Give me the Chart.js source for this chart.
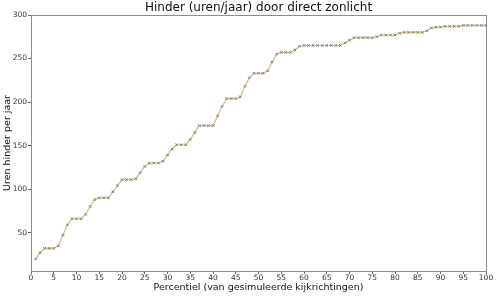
<!DOCTYPE html>
<html>
<head>
<meta charset="utf-8">
<script src="https://cdn.jsdelivr.net/npm/chart.js@4/dist/chart.umd.min.js"></script>
<style>
html,body{margin:0;padding:0;background:#fff;}
#wrap{width:496px;height:296px;position:relative;}
</style>
</head>
<body>
<div id="wrap"><canvas id="c" width="496" height="296"></canvas></div>
<script>
const percentiles = [];
for (let i = 1; i <= 100; i++) percentiles.push(i);
const hinderValues = [
  20, 27, 32, 32, 32, 35, 47, 59, 66, 66,
  66, 71, 80, 88, 90, 90, 90, 97, 104, 111,
  111, 111, 112, 119, 126, 130, 130, 130, 132, 139,
  146, 151, 151, 151, 157, 165, 173, 173, 173, 173,
  184, 195, 204, 204, 204, 206, 218, 228, 233, 233,
  233, 236, 246, 255, 257, 257, 257, 260, 264, 265,
  265, 265, 265, 265, 265, 265, 265, 265, 268, 271,
  274, 274, 274, 274, 274, 275, 277, 277, 277, 277,
  279, 280, 280, 280, 280, 280, 282, 285, 286, 286,
  287, 287, 287, 287, 288, 288, 288, 288, 288, 288
];
const xTicks = [0,5,10,15,20,25,30,35,40,45,50,55,60,65,70,75,80,85,90,95,100];
const yTicks = [50,100,150,200,250,300];

const frame = {
  id: 'frame',
  afterDatasetsDraw(chart) {
    const a = chart.chartArea, ctx = chart.ctx;
    ctx.save();
    ctx.strokeStyle = '#8c8c8c';
    ctx.lineWidth = 1;
    ctx.strokeRect(Math.round(a.left) + 0.5, Math.round(a.top) + 0.5, Math.round(a.right - a.left), Math.round(a.bottom - a.top));
    ctx.restore();
  }
};

new Chart(document.getElementById('c'), {
  type: 'line',
  data: {
    datasets: [{
      data: percentiles.map((p, i) => ({x: p, y: hinderValues[i]})),
      borderColor: '#d9bf85',
      borderWidth: 1.2,
      pointStyle: 'crossRot',
      pointRadius: 1.8,
      pointBorderWidth: 1,
      pointBorderColor: '#7d7d70',
      pointBackgroundColor: '#7d7d70',
      tension: 0
    }]
  },
  options: {
    responsive: false,
    animation: false,
    layout: {padding: {left: 0, right: 10, top: 0, bottom: 0}},
    plugins: {
      legend: {display: false},
      tooltip: {enabled: false},
      title: {
        display: true,
        text: 'Hinder (uren/jaar) door direct zonlicht',
        fullSize: false,
        color: '#111',
        font: {family: 'DejaVu Sans', size: 12, weight: 'normal', lineHeight: 1.25},
        padding: {top: 0, bottom: 0}
      }
    },
    scales: {
      x: {
        type: 'linear',
        min: 0, max: 100,
        afterFit(s) { s.height = 25; },
        afterBuildTicks(s) { s.ticks = xTicks.map(v => ({value: v})); },
        ticks: {autoSkip: false, maxRotation: 0, padding: 0, color: '#333', font: {family: 'DejaVu Sans', size: 7.5}},
        grid: {drawOnChartArea: false, drawTicks: true, tickLength: 3, color: '#666'},
        border: {display: true, color: '#8c8c8c'},
        title: {display: true, text: 'Percentiel (van gesimuleerde kijkrichtingen)', color: '#111',
          font: {family: 'DejaVu Sans', size: 9.5}, padding: {top: 0, bottom: 3}}
      },
      y: {
        type: 'linear',
        min: 6, max: 300,
        afterFit(s) { s.width = 31; },
        afterBuildTicks(s) { s.ticks = yTicks.map(v => ({value: v})); },
        ticks: {padding: 1, color: '#333', font: {family: 'DejaVu Sans', size: 7.5}},
        grid: {drawOnChartArea: false, drawTicks: true, tickLength: 3, color: '#666'},
        border: {display: true, color: '#8c8c8c'},
        title: {display: true, text: 'Uren hinder per jaar', color: '#111',
          font: {family: 'DejaVu Sans', size: 9.5}, padding: {top: 2, bottom: 0}}
      }
    }
  },
  plugins: [frame]
});
</script>
</body>
</html>
